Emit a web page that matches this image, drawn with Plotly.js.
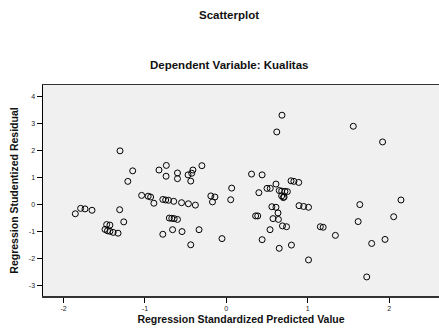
<!DOCTYPE html>
<html><head><meta charset="utf-8">
<script src="https://cdn.plot.ly/plotly-3.0.1.min.js"></script>
<style>html,body{margin:0;padding:0;background:#fff}#chart{width:439px;height:330px}</style>
</head><body><div id="chart"></div>
<script>
var predicted = [-1.855,-1.79,-1.736,-1.65,-1.47,-1.43,-1.49,-1.46,-1.43,-1.39,-1.33,-1.31,-1.26,-1.306,-1.15,-1.21,-1.04,-0.96,-0.93,-0.89,-0.78,-0.745,-0.71,-0.646,-0.55,-0.466,-0.38,-0.70,-0.67,-0.64,-0.60,-0.78,-0.66,-0.544,-0.335,-0.437,-0.827,-0.737,-0.74,-0.60,-0.60,-0.47,-0.425,-0.41,-0.437,-0.30,-0.19,-0.14,-0.17,0.054,0.066,-0.053,0.31,0.44,0.684,0.62,0.61,0.40,0.50,0.54,0.65,0.68,0.72,0.75,0.68,0.71,0.70,0.36,0.386,0.56,0.61,0.635,0.574,0.64,0.69,0.74,0.537,0.44,0.65,0.80,0.795,0.83,0.89,0.893,0.95,1.01,1.56,1.92,1.64,2.146,2.056,1.62,1.155,1.19,1.34,1.01,1.786,1.95,1.725];
var residual = [-0.35,-0.15,-0.17,-0.22,-0.75,-0.77,-0.93,-0.98,-1.00,-1.04,-1.07,-0.20,-0.65,1.98,1.24,0.85,0.33,0.30,0.27,0.04,0.18,0.16,0.15,0.11,0.06,0.02,-0.03,-0.51,-0.52,-0.53,-0.56,-1.11,-0.94,-1.01,-0.94,-1.50,1.27,1.44,1.04,1.16,0.95,1.09,1.15,1.27,0.86,1.43,0.31,0.27,0.09,0.17,0.60,-1.27,1.12,1.09,3.30,2.68,0.75,0.43,0.59,0.59,0.51,0.49,0.48,0.47,0.31,0.27,0.25,-0.43,-0.43,-0.09,-0.11,-0.32,-0.53,-0.56,-0.80,-0.83,-0.94,-1.31,-1.63,-1.51,0.87,0.85,0.81,-0.05,-0.08,-0.11,2.89,2.31,-0.01,0.16,-0.46,-0.64,-0.83,-0.85,-1.15,-2.06,-1.45,-1.30,-2.69];
var xTicks = [-2,-1,0,1,2];
var yTicks = [-3,-2,-1,0,1,2,3,4];
var mainTitle = 'Scatterplot';
var subTitle = 'Dependent Variable: Kualitas';
var xTitle = 'Regression Standardized Predicted Value';
var yTitle = 'Regression Studentized Residual';

var F = 'Liberation Sans, Arial, sans-serif';
Plotly.newPlot('chart', [{
  x: predicted, y: residual, type: 'scatter', mode: 'markers',
  marker: {symbol: 'circle-open', size: 6, color: '#000', line: {width: 1, color: '#000'}},
  hoverinfo: 'skip'
}], {
  width: 439, height: 330,
  margin: {l: 43, r: 0, t: 85, b: 34, pad: 0},
  paper_bgcolor: '#fff', plot_bgcolor: '#f0f0f0',
  showlegend: false,
  font: {family: F, color: '#000'},
  xaxis: {
    range: [-2.252, 2.613], tickvals: xTicks, ticktext: xTicks.map(String),
    showgrid: false, zeroline: false, showline: true, linecolor: '#333', linewidth: 1.5,
    mirror: true, ticks: 'outside', ticklen: 5, tickcolor: '#000', tickwidth: 1,
    tickfont: {size: 7, family: F, color: '#222'},
    title: {text: xTitle, font: {size: 10.5, family: F, color: '#111', weight: 'bold'}, standoff: 4}
  },
  yaxis: {
    range: [-3.396, 4.419], tickvals: yTicks, ticktext: yTicks.map(String),
    showgrid: false, zeroline: false, showline: true, linecolor: '#000', linewidth: 1.5,
    ticks: 'outside', ticklen: 5, tickcolor: '#000', tickwidth: 1,
    tickfont: {size: 7, family: F, color: '#222'},
    title: {text: yTitle, font: {size: 10.5, family: F, color: '#111', weight: 'bold'}, standoff: 8}
  },
  annotations: [
    {text: '<b>' + mainTitle + '</b>', xref: 'paper', yref: 'paper', x: 0.47, y: 1.332, xanchor: 'center', yanchor: 'middle', showarrow: false, font: {size: 11.5, family: F, color: '#111'}},
    {text: '<b>' + subTitle + '</b>', xref: 'paper', yref: 'paper', x: 0.47, y: 1.095, xanchor: 'center', yanchor: 'middle', showarrow: false, font: {size: 11.5, family: F, color: '#111'}}
  ]
}, {staticPlot: true, displayModeBar: false});
</script></body></html>
